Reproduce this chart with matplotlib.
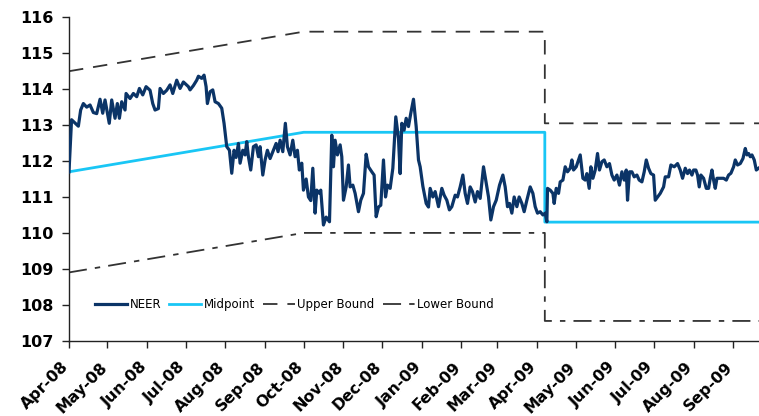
import pandas as pd
import matplotlib
matplotlib.use("Agg")
import matplotlib.pyplot as plt
import matplotlib.dates as mdates
from matplotlib.transforms import ScaledTranslation

# NEER band chart, Apr-08 to Sep-09

start = pd.Timestamp("2008-04-01")

# NEER: days since 1 Apr 2008 and index level
neer_days = [
    0, 2, 7.3, 9.1, 11.2, 13.8, 16.4, 19.0, 21.6, 24.2, 26.3, 28.1, 31.4, 33.3, 35.9, 37.7,
    39.3, 41.1, 43.7, 44.5, 47.6, 50.2, 52.8, 54.9, 57.5, 60.1, 63.2, 65.3, 67.1, 69.7, 71.0,
    73.6, 76.2, 78.8, 80.9, 84.0, 86.6, 89.2, 93.1, 94.4, 97.0, 99.6, 100.9, 103.5, 105.3,
    106.9, 107.9, 110.0, 112.1, 113.9, 116.5, 119.1, 120.9, 123.0, 125.1, 126.9, 128.7, 130.3,
    132.1, 133.4, 135.5, 137.3, 138.6, 139.9, 141.7, 143.8, 145.9, 147.7, 149.0, 151.1, 152.9,
    154.7, 156.8, 158.9, 161.5, 163.0, 164.6, 166.7, 168.7, 170.3, 172.4, 174.5, 176.3, 178.1,
    179.6, 181.5, 182.8, 184.9, 186.7, 188.5, 190.1, 191.9, 193.2, 195.3, 196.3, 198.4, 200.5,
    203.1, 204.9, 206.2, 207.5, 209.3, 211.4, 212.7, 214.0, 216.1, 217.9, 219.2, 221.3, 223.1,
    225.7, 227.5, 229.6, 231.7, 233.5, 236.1, 237.9, 239.5, 241.3, 243.1, 245.2, 246.8, 248.3,
    250.4, 252.5, 254.8, 256.9, 258.2, 259.5, 261.3, 262.9, 264.7, 266.5, 268.6, 270.7, 272.5,
    273.8, 275.9, 278.5, 280.3, 281.6, 283.7, 285.5, 288.1, 290.7, 292.5, 294.6, 296.6, 298.5,
    301.1, 302.9, 305.0, 307.1, 308.9, 310.7, 312.8, 314.6, 316.7, 318.5, 320.6, 323.2, 325.3,
    327.1, 328.9, 331.0, 333.1, 335.7, 338.3, 340.1, 341.9, 343.5, 345.3, 347.1, 349.2, 351.0,
    353.1, 354.9, 357.0, 359.6, 361.7, 363.5, 365.3, 367.4, 369.5, 371.3, 372.6, 373.1, 375.2,
    377.3, 378.3, 379.9, 381.7, 383.0, 385.1, 386.9, 388.7, 390.8, 392.1, 393.4, 395.5, 397.3,
    398.6, 400.7, 402.5, 403.8, 405.6, 406.9, 408.5, 410.3, 412.1, 413.6, 415.5, 417.3, 419.4,
    421.4, 423.3, 425.1, 427.2, 429.2, 431.1, 432.9, 434.5, 435.5, 437.0, 438.9, 440.7, 442.8,
    444.6, 446.7, 448.5, 450.1, 451.9, 453.7, 455.8, 457.1, 458.9, 461.0, 463.6, 464.9, 467.5,
    469.3, 471.9, 474.5, 476.6, 478.4, 480.5, 482.3, 483.8, 485.7, 487.0, 488.8, 490.1, 491.4,
    492.7, 494.8, 496.9, 498.7, 500.0, 501.3, 502.6, 503.9, 505.2, 507.8, 510.4, 512.5, 514.3,
    516.1, 518.2, 519.5, 521.3, 523.4, 525.5, 527.3, 528.6, 529.9, 531.2, 532.5, 534.3, 535.9,
    537.7,
]
neer = [
    111.70, 113.15, 112.97, 113.42, 113.60, 113.50, 113.56, 113.35, 113.32, 113.72, 113.33, 113.70,
    113.05, 113.70, 113.19, 113.60, 113.19, 113.65, 113.42, 113.88, 113.74, 113.88, 113.79, 114.02,
    113.84, 114.07, 113.97, 113.60, 113.42, 113.46, 114.02, 113.88, 113.97, 114.12, 113.88, 114.25,
    114.02, 114.20, 114.07, 113.98, 114.10, 114.25, 114.36, 114.30, 114.39, 114.07, 113.60, 113.93,
    113.98, 113.65, 113.60, 113.47, 113.05, 112.40, 112.30, 111.66, 112.30, 112.10, 112.49, 111.94,
    112.30, 112.17, 112.54, 112.12, 111.75, 112.40, 112.45, 112.12, 112.40, 111.61, 112.03, 112.30,
    112.07, 112.26, 112.49, 112.26, 112.58, 112.26, 113.05, 112.40, 112.17, 112.58, 112.12, 112.30,
    111.75, 111.94, 111.19, 111.50, 111.00, 110.90, 111.80, 110.55, 111.19, 111.10, 111.19, 110.22,
    110.44, 110.31, 112.72, 111.84, 112.58, 112.17, 112.45, 112.12, 110.91, 111.28, 111.89, 111.28,
    111.33, 111.10, 110.59, 110.91, 111.10, 112.19, 111.84, 111.70, 111.61, 110.45, 110.72, 110.77,
    112.03, 111.00, 111.33, 111.24, 111.80, 113.23, 112.63, 111.65, 113.05, 112.86, 113.19, 112.96,
    113.33, 113.72, 112.96, 112.03, 111.84, 111.30, 110.82, 110.72, 111.24, 111.00, 111.15, 110.73,
    111.24, 111.05, 110.91, 110.64, 110.73, 111.05, 111.00, 111.28, 111.61, 111.10, 110.82, 111.28,
    111.15, 110.86, 111.15, 110.96, 111.84, 111.38, 111.00, 110.36, 110.73, 110.91, 111.33, 111.61,
    111.28, 110.73, 110.82, 110.55, 111.00, 110.73, 111.00, 110.82, 110.59, 110.91, 111.28, 111.10,
    110.73, 110.55, 110.59, 110.50, 110.55, 110.31, 111.24, 111.19, 111.10, 110.82, 111.24, 111.10,
    111.42, 111.47, 111.84, 111.70, 111.80, 112.03, 111.75, 111.84, 112.03, 112.17, 111.52, 111.47,
    111.65, 111.24, 111.84, 111.52, 111.75, 112.21, 111.75, 111.98, 112.03, 111.84, 111.93, 111.61,
    111.47, 111.61, 111.33, 111.70, 111.47, 111.75, 110.91, 111.70, 111.70, 111.56, 111.61, 111.47,
    111.42, 111.70, 112.03, 111.80, 111.65, 111.61, 110.91, 111.00, 111.10, 111.28, 111.56, 111.56,
    111.89, 111.84, 111.93, 111.75, 111.52, 111.80, 111.65, 111.75, 111.61, 111.75, 111.75, 111.61,
    111.28, 111.61, 111.52, 111.24, 111.24, 111.52, 111.75, 111.47, 111.24, 111.52, 111.52, 111.52,
    111.47, 111.61, 111.66, 111.84, 112.03, 111.89, 111.93, 112.07, 112.35, 112.17, 112.21, 112.12,
    112.17, 112.03, 111.75, 111.80,
]

# band: midpoint with upper / lower bounds, re-centred in April 2009
band_dates = ["2008-04-01", "2008-10-01", "2009-04-07", "2009-04-07", "2009-10-15"]
midpoint = [111.7, 112.8, 112.8, 110.3, 110.3]
upper = [114.5, 115.6, 115.6, 113.05, 113.05]
lower = [108.9, 110.0, 110.0, 107.55, 107.55]

neer_dt = start + pd.to_timedelta(neer_days, unit="D")
band_dt = pd.to_datetime(band_dates)

fig = plt.figure(figsize=(7.59, 4.16), dpi=100)
ax = fig.add_axes([0.0909, 0.181, 0.9091, 0.7774])

ax.plot(neer_dt, neer, color="#0b3467", lw=2.3, label="NEER", zorder=4)
ax.plot(band_dt, midpoint, color="#19c6f5", lw=2.0, label="Midpoint", zorder=3)
ax.plot(band_dt, upper, color="#333333", lw=1.3, dashes=(8, 5.5), label="Upper Bound")
ax.plot(band_dt, lower, color="#333333", lw=1.3, dashes=(10, 4.5, 3, 4.5), label="Lower Bound")

ax.set_ylim(107, 116)
ax.set_yticks(range(107, 117))
ax.set_xlim(start, start + pd.Timedelta(days=538))

ax.xaxis.set_major_locator(mdates.MonthLocator())
ax.xaxis.set_major_formatter(mdates.DateFormatter("%b-%y"))

for side in ["top", "right"]:
    ax.spines[side].set_visible(False)
for side in ["left", "bottom"]:
    ax.spines[side].set_color("#222222")
    ax.spines[side].set_linewidth(1.0)

ax.tick_params(axis="both", direction="out", length=5, width=1, color="#222222")
ax.tick_params(axis="y", labelsize=11.5, pad=6)
ax.tick_params(axis="x", labelsize=11.3, pad=4)
for lab in ax.get_yticklabels():
    lab.set_fontweight("bold")

# month labels slanted and nudged down-left of their ticks
shift = ScaledTranslation(-0.08, -0.06, fig.dpi_scale_trans)
for lab in ax.get_xticklabels():
    lab.set_fontweight("bold")
    lab.set_rotation(45)
    lab.set_ha("right")
    lab.set_va("top")
    lab.set_rotation_mode("anchor")
    lab.set_transform(lab.get_transform() + shift)

ax.legend(loc="center left", bbox_to_anchor=(0.038, 0.113), ncol=4, frameon=False,
          fontsize=8.5, handlelength=2.7, handletextpad=0.2, columnspacing=0.7,
          borderaxespad=0, borderpad=0)

fig.savefig("out.png", dpi=100)
